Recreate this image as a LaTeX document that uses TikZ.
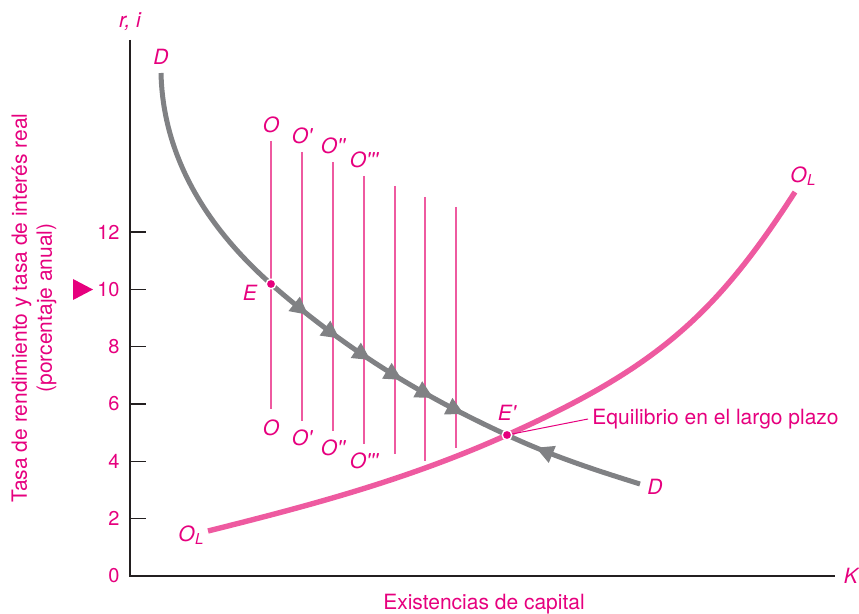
\documentclass[tikz,border=0pt]{standalone}
\usepackage{fontspec}
\setmainfont{TeX Gyre Heros}
\usetikzlibrary{arrows.meta, positioning, decorations.markings}
\definecolor{magtext}{HTML}{E6007E}
\definecolor{pinkline}{HTML}{EE5AA0}
\definecolor{dgray}{HTML}{808184}
\definecolor{axisblack}{HTML}{231F20}
\newcommand{\prm}{\textquotesingle}
\newcommand{\OLlab}{O\kern0.2pt\raisebox{-1.7pt}{\fontsize{7.5}{8}\selectfont L}}

\begin{document}
\begin{tikzpicture}[
    x=0.5pt, y=-0.5pt,
    every node/.style={font=\fontsize{10.5}{12.5}\selectfont, text=magtext},
    lbl/.style={font=\fontsize{10.5}{12.5}\selectfont\itshape, inner sep=1pt},
    axisln/.style={axisblack, line width=0.65pt},
    oline/.style={pinkline, line width=0.75pt},
    supply/.style={pinkline, line width=2.7pt},
    dhead/.tip={Triangle[length=9pt, width=8.5pt]},
    demand/.style={dgray, line width=2.5pt,
        decoration={markings,
            mark=at position 146.8pt with {\arrow{dhead}},
            mark=at position 166.4pt with {\arrow{dhead}},
            mark=at position 185.4pt with {\arrow{dhead}},
            mark=at position 204pt with {\arrow{dhead}},
            mark=at position 222pt with {\arrow{dhead}},
            mark=at position 239.4pt with {\arrow{dhead}},
            mark=at position 278.8pt with {\arrowreversed{dhead}}},
        postaction={decorate}},
    eqdot/.style={circle, fill=magtext, draw=white, line width=0.7pt,
                  minimum size=4.8pt, inner sep=0pt}
]
    \useasboundingbox (0,0) rectangle (859,614);

    % axes and ticks
    \draw[axisln] (130,40) -- (130,576) -- (835,576);
    \foreach \v in {0,2,...,12} {
        \draw[axisln] (130,{576-28.67*\v}) -- (146,{576-28.67*\v});
        \node[anchor=east, inner sep=0pt, font=\fontsize{10}{12}\selectfont] (tick\v) at (120,{576-28.67*\v}) {\v};
    }
    \fill[magtext] (73,279) -- (73,300) -- (93,289.5) -- cycle;

    \node[lbl] (rlab) at (130,22) {r, i};
    \node[lbl] (klab) at (851,576) {K};
    \node (xlab) at (484,604) {Existencias de capital};
    \node[rotate=90, align=center] (ylab) at (34,308)
        {Tasa de rendimiento y tasa de interés real\\(porcentaje anual)};

    % vertical O lines
    \foreach \x/\ytop/\ybot [count=\i] in {271/141/409, 302/152/421, 333/162/431,
            364/176/444, 395/186/454, 425/197/461, 456/207/448} {
        \coordinate (ot\i) at (\x,\ytop);
        \coordinate (ob\i) at (\x,\ybot);
        \draw[oline] (ot\i) -- (ob\i);
    }
    \node[lbl, above=3pt of ot1] (o1t) {O};
    \node[lbl, above=3pt of ot2] (o2t) {O\prm};
    \node[lbl, above=3pt of ot3] (o3t) {O\prm\prm};
    \node[lbl, above=3pt of ot4] (o4t) {O\prm\prm\prm};
    \node[lbl, below=4pt of ob1] (o1b) {O};
    \node[lbl, below=3pt of ob2] (o2b) {O\prm};
    \node[lbl, below=3pt of ob3] (o3b) {O\prm\prm};
    \node[lbl, below=3pt of ob4] (o4b) {O\prm\prm\prm};

    % long-run supply and demand
    \draw[supply] (208,531) .. controls (308,506) and (407,480) .. (507,435)
                            .. controls (656,368) and (715,316) .. (795,192);
    \draw[demand] (161,73) .. controls (163,160) and (210,230) .. (271,284)
                           .. controls (351,354) and (427,398) .. (507,435)
                           .. controls (552,456) and (595,470) .. (640,484);

    \node[lbl] (dtop) at (161,57) {D};
    \node[lbl] (dbot) at (655,487) {D};
    \node[lbl] (oltop) at (803,176) {\OLlab};
    \node[lbl] (olbot) at (191,535) {\OLlab};

    % equilibria
    \node[anchor=west, inner sep=2pt] (lrtext) at (588,419) {Equilibrio en el largo plazo};
    \draw[magtext, line width=0.5pt] (507,435) -- (lrtext.west);
    \node[eqdot] (E) at (271,284) {};
    \node[eqdot] (Ep) at (507,435) {};
    \node[lbl] (elab) at (250,293) {E};
    \node[lbl] (eplab) at (507,413) {E\prm};
\end{tikzpicture}
\end{document}
